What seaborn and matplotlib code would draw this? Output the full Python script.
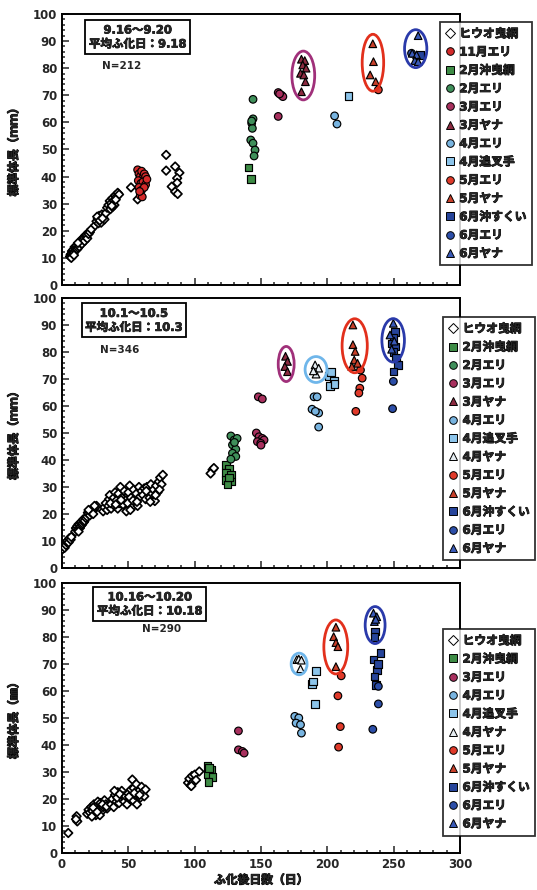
import matplotlib
matplotlib.use("Agg")
import matplotlib.pyplot as plt
import matplotlib.patheffects as pe
from matplotlib.patches import Ellipse
from matplotlib.lines import Line2D
from matplotlib.ticker import MultipleLocator
import pandas as pd
import seaborn as sns

sns.set_style("white")
plt.rcParams["font.family"] = ["DejaVu Sans", "Noto Sans CJK JP"]
plt.rcParams["font.weight"] = "bold"

# heavier strokes for the kana/kanji text
HEAVY = [pe.withStroke(linewidth=0.7, foreground="black")]

# ---- group names (legend labels) ----
HIUO = "ヒウオ曳網"
NOV_ERI = "11月エリ"
FEB_OKI = "2月沖曳網"
FEB_ERI = "2月エリ"
MAR_ERI = "3月エリ"
MAR_YANA = "3月ヤナ"
APR_ERI = "4月エリ"
APR_SADE = "4月追叉手"
APR_YANA = "4月ヤナ"
MAY_ERI = "5月エリ"
MAY_YANA = "5月ヤナ"
JUN_OKI = "6月沖すくい"
JUN_ERI = "6月エリ"
JUN_YANA = "6月ヤナ"

# ---- panel 1 : hatched 9.16-9.20 (days after hatching, standard length mm) ----
p1_hiuo = [(6, 10.5), (6.5, 11.2), (7, 11.5), (7.5, 12.5), (8, 11), (8, 12), (8.5, 13), (9, 12),
           (9.5, 14), (10, 12.8), (10, 13.6), (10.5, 13.5), (11, 14.5), (11.5, 13.2), (12, 13.8),
           (12.5, 15), (13, 14.2), (13.5, 15.8), (14, 15.5), (14.5, 16.5), (15, 15.2), (15.5, 17.2),
           (16, 16.8), (16.5, 17.5), (17, 16.2), (17.5, 18.2), (18, 17.8), (18.5, 18.5), (19, 17.2),
           (19.5, 19.2), (20, 18.8), (21, 19.5), (22, 20.5), (7, 10), (9, 11), (12, 15.5),
           (25, 22), (26, 23.5), (27, 24.5), (27.5, 22.8), (28, 25.5), (29, 24), (29.5, 23), (30, 26),
           (31, 25), (32, 24.2), (33, 26.5), (26.5, 25.2), (28.5, 23.8), (30.5, 24.6),
           (34, 28.5), (35, 29.5), (36, 31), (36.5, 28), (37, 30.2), (38, 32), (39, 31.2), (39.5, 29.5),
           (40, 33), (41, 32.5), (42, 34), (43, 33.4), (38, 28.8), (37.5, 29.2), (40.5, 31.5),
           (52, 36), (57, 31.6),
           (78.5, 48), (78.5, 42.2), (85.3, 43.7), (88.5, 41.4), (86.8, 39.4), (86.8, 37.7),
           (82.7, 36.3), (85.3, 34.4), (87.2, 33.6)]
p1_nov_eri = [(57, 42.5), (58, 41), (59, 40), (60, 42), (61, 39.5), (62, 41), (63, 40), (57.5, 38.5),
              (59.5, 37.5), (61, 38), (63, 37), (58, 36), (60, 35), (62, 36), (59, 33), (60.5, 32.5),
              (58.5, 34.5), (64, 39)]
p1_feb_oki = [(140.5, 43.3), (142.3, 39)]
p1_feb_eri = [(144, 68.5), (144, 61.3), (143, 59.7), (143.5, 57.8), (142.3, 53.5), (144, 52.3),
              (145.5, 49.8), (144.8, 47.6), (143, 60.5)]
p1_mar_eri = [(163, 71), (165.5, 70), (166.5, 69.5), (163, 62.2), (164, 70.5)]
p1_mar_yana = [(180.5, 83.3), (183, 82.8), (181.5, 81.2), (184, 80), (179.8, 78.1), (182.3, 77.5),
               (183.5, 75), (180.5, 71.3)]
p1_apr_eri = [(205.5, 62.4), (207.3, 59.4)]
p1_apr_sade = [(216, 69.7)]
p1_may_eri = [(238.5, 72)]
p1_may_yana = [(234.3, 89), (234.8, 82.4), (232.3, 77.5), (236.5, 75)]
p1_jun_oki = [(269.8, 84.9)]
p1_jun_eri = [(263.5, 85.5)]
p1_jun_yana = [(268.5, 92), (264, 85.5), (267.3, 84.9), (266, 82.8), (268.5, 82.4)]

# ---- panel 2 : hatched 10.1-10.5 ----
p2_hiuo = [(0.5, 7), (1, 8), (1.5, 8.8), (2, 7.5), (2.5, 9), (3, 8.5), (3.5, 9.6), (4, 10), (5, 9.5),
           (5.5, 11), (6.5, 10.5), (7, 11.5),
           (10, 13.5), (10.5, 14.8), (11, 14.5), (11.5, 15.5), (12, 14), (12.5, 16.2), (13, 16),
           (13.5, 14.8), (14, 15.5), (14.5, 17), (15, 16), (15.5, 16.5), (16, 18), (16.5, 17),
           (17, 17.5), (18, 18.5), (12.5, 13.5),
           (19, 19), (19.5, 20.5), (20, 20), (21, 19.5), (21.5, 21), (22, 20.5), (22.5, 21.8), (23, 22),
           (24, 21.5), (25, 22.5), (26, 23), (20, 21.5), (23.5, 20), (24.5, 23),
           (31, 21), (32, 22.5), (33, 24), (34, 21.5), (35, 23), (35.5, 25.5), (36, 27), (37, 22),
           (38, 24.5), (39, 26), (39.5, 23), (40, 28), (41, 25), (42, 22), (42.5, 27.5), (43, 24),
           (44, 30), (45, 26), (46, 23.5), (47, 28.5), (48, 25), (48.5, 21), (36.5, 24), (40.5, 23.5),
           (44.5, 25.2),
           (49.5, 24), (50, 28), (51, 30.5), (52, 26), (53, 22.5), (54, 29), (55, 25), (56, 27.5),
           (57, 23), (58, 30), (59, 26.5), (60, 28.5), (51.5, 21.5), (53.5, 25), (56.5, 24.5),
           (61, 27), (62, 29.5), (63, 25.5), (64, 30), (65, 28), (66, 26), (67, 31), (68, 27.5),
           (69, 29), (70, 24.8), (71, 30.5), (72, 28), (73, 32), (74, 33.5), (75, 31), (76, 34.5),
           (73.5, 29), (66.5, 24.5), (63.5, 28.5), (70.5, 27),
           (113.5, 36.4), (112, 35), (114.5, 37)]
p2_feb_oki = [(123.5, 38.1), (126, 36.9), (123.5, 35.2), (127.3, 34.6), (123.5, 32.7), (127.3, 32.1),
              (124.8, 30.9), (126, 33.5)]
p2_feb_eri = [(127.3, 48.9), (129.8, 47.4), (132, 48), (128.5, 45.6), (131, 44), (128.5, 42.5),
              (131, 41.3), (127.3, 40.3), (130, 46.5)]
p2_mar_eri = [(148, 63.4), (151, 62.6), (146.5, 50), (148.5, 48.6), (151, 48), (147.3, 46.8),
              (152.3, 47.4), (149.8, 46.2), (150, 45.5)]
p2_mar_yana = [(168.5, 78.4), (170, 76.5), (168, 74.6), (170, 72.7)]
p2_apr_eri = [(190, 63.4), (192.3, 63.4), (188.5, 58.8), (193.5, 57.4), (193.5, 52.2), (191, 58)]
p2_apr_sade = [(201, 71.2), (205, 69.4), (202, 67.5), (205.5, 68.2), (203, 72.6)]
p2_apr_yana = [(190.8, 75.2), (193.5, 74), (191.5, 71.8), (189.5, 73)]
p2_may_eri = [(225, 73.3), (226.3, 70.3), (224.5, 66.6), (223.8, 64.8), (221.5, 58)]
p2_may_yana = [(219.3, 90), (219.3, 82.7), (221, 80.2), (220.3, 77), (222.8, 75.8), (218.5, 74.6)]
p2_jun_oki = [(251, 87.5), (249.8, 85.1), (248.5, 83.2), (251.5, 82), (249.8, 80.1), (253.5, 75.2),
              (249.8, 72.7), (252, 78)]
p2_jun_eri = [(249.8, 69.1), (249.2, 59)]
p2_jun_yana = [(249.8, 90.6), (247.3, 86.3), (250.5, 84), (248.5, 81)]

# ---- panel 3 : hatched 10.16-10.20 ----
p3_hiuo = [(4.7, 7.4), (11, 13.6), (11.5, 11.7), (10.5, 12.5),
           (19, 14.5), (20, 16), (21, 15), (22, 17), (23, 15.5), (24, 18), (25, 16.5), (25.5, 14),
           (26, 17.5), (27, 19), (28, 16), (29, 18.5), (30, 15.5), (31, 17), (32, 19.5), (33, 18),
           (34, 16.5), (22.5, 13.5), (28.5, 14), (23.5, 16.8), (26.5, 15.2), (30.5, 18), (33.5, 17.2),
           (37, 18), (38, 20), (39, 17), (40, 21.5), (41, 19), (42, 22.5), (43, 18.5), (44, 20.5),
           (45, 23), (46, 21), (39.5, 23), (41.5, 20.5), (43.5, 21.8),
           (47, 19), (48, 21), (49, 18), (50, 22), (51, 20), (52, 23.5), (53, 27.2), (53.5, 19.5),
           (54, 24), (55, 21.5), (56, 25.5), (57, 22), (58, 23), (59, 20.5), (60, 24.5), (61, 22.5),
           (62, 21), (63, 23.5), (56.5, 18), (50.5, 20.8), (54.5, 22.2), (58.5, 21.5),
           (95, 26), (96, 27.5), (97, 25), (98, 28.5), (99, 26.5), (100, 29), (101, 27), (103.5, 30.2),
           (97.5, 24.8)]
p3_feb_oki = [(109.7, 32.1), (112.2, 30.9), (109.7, 29), (113.5, 28.2), (110.5, 26.2), (111, 31.5)]
p3_mar_eri = [(133, 45.2), (133, 38.2), (136, 37.6), (137.3, 37)]
p3_apr_eri = [(175.5, 50.6), (178.5, 50), (176.5, 48.1), (179.8, 47.5), (180.5, 44.4)]
p3_apr_sade = [(191.5, 67.5), (188.5, 62.6), (189, 63.5), (190.5, 55.2)]
p3_apr_yana = [(177, 71.6), (178.5, 71.8), (180.5, 71.4), (179.8, 68.2)]
p3_may_eri = [(210.5, 65.6), (208, 58.2), (209.8, 46.8), (208.5, 39.2)]
p3_may_yana = [(206.5, 83.6), (204.8, 80.1), (206.5, 77.9), (208, 76.4), (206.5, 69)]
p3_jun_oki = [(236, 82), (235.5, 80), (240, 74), (234.8, 71.6), (237.3, 67.8), (235.5, 65.3),
              (236.5, 62.2), (238, 70)]
p3_jun_eri = [(238.5, 61.7), (238.5, 55.2), (234.3, 45.8)]
p3_jun_yana = [(234.8, 88.8), (237.3, 87.5), (235.5, 85.7), (236.5, 86.5)]

# ---- panel annotations ----
p1_period = "9.16〜9.20\n平均ふ化日：9.18"
p2_period = "10.1〜10.5\n平均ふ化日：10.3"
p3_period = "10.16〜10.20\n平均ふ化日：10.18"
p1_n = "N=212"
p2_n = "N=346"
p3_n = "N=290"

# ---- marker styles per group ----
FACE = {
    HIUO: "#ffffff", NOV_ERI: "#d42a2a", FEB_OKI: "#3d8b45", FEB_ERI: "#3f8f5a",
    MAR_ERI: "#a8305e", MAR_YANA: "#8c2a40", APR_ERI: "#78b4e0", APR_SADE: "#8cc4ea",
    APR_YANA: "#e6edf2", MAY_ERI: "#e03a2a", MAY_YANA: "#c8402a", JUN_OKI: "#26449a",
    JUN_ERI: "#2c4ea8", JUN_YANA: "#3a5ab8",
}
MARK = {
    HIUO: "D", NOV_ERI: "o", FEB_OKI: "s", FEB_ERI: "o", MAR_ERI: "o", MAR_YANA: "^",
    APR_ERI: "o", APR_SADE: "s", APR_YANA: "^", MAY_ERI: "o", MAY_YANA: "^",
    JUN_OKI: "s", JUN_ERI: "o", JUN_YANA: "^",
}
SIZE = {g: (19 if m == "D" else 30) for g, m in MARK.items()}

panels = [
    dict(series={HIUO: p1_hiuo, NOV_ERI: p1_nov_eri, FEB_OKI: p1_feb_oki, FEB_ERI: p1_feb_eri,
                 MAR_ERI: p1_mar_eri, MAR_YANA: p1_mar_yana, APR_ERI: p1_apr_eri,
                 APR_SADE: p1_apr_sade, MAY_ERI: p1_may_eri, MAY_YANA: p1_may_yana,
                 JUN_OKI: p1_jun_oki, JUN_ERI: p1_jun_eri, JUN_YANA: p1_jun_yana},
         period=p1_period, n=p1_n, ylabel="標準体長（ｍｍ）",
         rect=[0.1155, 0.6798, 0.741, 0.3045],
         box_xy=(0.19, 0.915), n_xy=(0.1, 0.808), legend_xy=(0.819, 0.9753),
         rings=[([MAR_YANA], 0, "#a0307a", 13, 6),
                ([MAY_YANA], 0, "#e2301c", 12, 7),
                ([JUN_YANA, JUN_ERI, JUN_OKI], 0, "#2a3aaa", 10.5, 4.4)]),
    dict(series={HIUO: p2_hiuo, FEB_OKI: p2_feb_oki, FEB_ERI: p2_feb_eri, MAR_ERI: p2_mar_eri,
                 MAR_YANA: p2_mar_yana, APR_ERI: p2_apr_eri, APR_SADE: p2_apr_sade,
                 APR_YANA: p2_apr_yana, MAY_ERI: p2_may_eri, MAY_YANA: p2_may_yana,
                 JUN_OKI: p2_jun_oki, JUN_ERI: p2_jun_eri, JUN_YANA: p2_jun_yana},
         period=p2_period, n=p2_n, ylabel="標準体長（ｍｍ）",
         rect=[0.1155, 0.3618, 0.741, 0.3034],
         box_xy=(0.18, 0.917), n_xy=(0.095, 0.807), legend_xy=(0.825, 0.6438),
         rings=[([MAR_YANA], 0, "#a0307a", 10, 7.3),
                ([APR_YANA], 0, "#6fb6ea", 12.5, 6.2),
                ([MAY_YANA], 0, "#e2301c", 14.7, 4.6),
                ([JUN_YANA, JUN_OKI], 78, "#2a3aaa", 12.3, 3.5)]),
    dict(series={HIUO: p3_hiuo, FEB_OKI: p3_feb_oki, MAR_ERI: p3_mar_eri, APR_ERI: p3_apr_eri,
                 APR_SADE: p3_apr_sade, APR_YANA: p3_apr_yana, MAY_ERI: p3_may_eri,
                 MAY_YANA: p3_may_yana, JUN_OKI: p3_jun_oki, JUN_ERI: p3_jun_eri,
                 JUN_YANA: p3_jun_yana},
         period=p3_period, n=p3_n, ylabel="標準体長（㎜）",
         rect=[0.1155, 0.0416, 0.741, 0.3034],
         box_xy=(0.22, 0.922), n_xy=(0.2, 0.83), legend_xy=(0.825, 0.2933),
         rings=[([APR_YANA], 0, "#6fb6ea", 8.5, 4.4),
                ([MAY_YANA], 0, "#e2301c", 14.8, 5.4),
                ([JUN_YANA, JUN_OKI], 78, "#2a3aaa", 12.5, 4.9)]),
]

fig = plt.figure(figsize=(5.37, 8.90), dpi=100)

for i, p in enumerate(panels):
    ax = fig.add_axes(p["rect"])
    order = list(p["series"].keys())
    rows = [(g, d, l) for g in order for d, l in p["series"][g]]
    df = pd.DataFrame(rows, columns=["group", "day", "length"])
    style = dict(x="day", y="length", hue="group", style="group", size="group",
                 hue_order=order, style_order=order, size_order=order,
                 palette={g: FACE[g] for g in order},
                 markers={g: MARK[g] for g in order},
                 sizes={g: SIZE[g] for g in order},
                 edgecolor="black", legend=False, ax=ax, zorder=3)

    # open diamonds (heavily overlapping) first, then the filled catches on top
    sns.scatterplot(data=df[df["group"] == HIUO], linewidth=1.25, **style)
    sns.scatterplot(data=df[df["group"] != HIUO], linewidth=0.85, **style)

    # rings drawn around the ヤナ catches
    for groups, lo, color, padx, pady in p["rings"]:
        pts = df[df["group"].isin(groups) & (df["length"] >= lo)]
        x0, x1 = pts["day"].min(), pts["day"].max()
        y0, y1 = pts["length"].min(), pts["length"].max()
        ax.add_patch(Ellipse(((x0 + x1) / 2, (y0 + y1) / 2), (x1 - x0) + padx, (y1 - y0) + pady,
                             fill=False, ec=color, lw=2.0, zorder=4))

    ax.set_xlim(0, 300)
    ax.set_ylim(0, 100)
    ax.xaxis.set_major_locator(MultipleLocator(50))
    ax.xaxis.set_minor_locator(MultipleLocator(10))
    ax.yaxis.set_major_locator(MultipleLocator(10))
    ax.yaxis.set_minor_locator(MultipleLocator(2))
    ax.tick_params(which="both", direction="in", left=True, bottom=True, top=False, right=False,
                   width=1.1, labelsize=8.5)
    ax.tick_params(which="major", length=5)
    ax.tick_params(which="minor", length=2.5)
    for lab in ax.get_xticklabels() + ax.get_yticklabels():
        lab.set_fontweight("bold")
    for sp in ax.spines.values():
        sp.set_linewidth(1.4)
        sp.set_color("black")

    yl = ax.set_ylabel(p["ylabel"], fontsize=8.5, fontweight="bold", labelpad=9)
    yl.set_path_effects(HEAVY)
    if i < 2:
        ax.set_xlabel("")
        ax.tick_params(labelbottom=False)
    else:
        xl = ax.set_xlabel("ふ化後日数（日）", fontsize=8.5, fontweight="bold", labelpad=2)
        xl.set_path_effects(HEAVY)

    ax.text(*p["box_xy"], p["period"], transform=ax.transAxes, ha="center", va="center",
            fontsize=8.3, fontweight="bold", linespacing=1.1,
            bbox=dict(boxstyle="square,pad=0.3", fc="white", ec="black", lw=1.3),
            path_effects=[pe.withStroke(linewidth=0.5, foreground="black")])
    ax.text(*p["n_xy"], p["n"], transform=ax.transAxes, ha="left", va="center",
            fontsize=7.5, fontweight="bold")

    handles = [Line2D([], [], ls="", marker=MARK[g], markerfacecolor=FACE[g],
                      markeredgecolor="black", markeredgewidth=0.7,
                      markersize=(4.6 if MARK[g] == "D" else 5.5)) for g in order]
    leg = ax.legend(handles, order, loc="upper left", bbox_to_anchor=p["legend_xy"],
                    bbox_transform=fig.transFigure, frameon=True, fancybox=False,
                    fontsize=8.5, labelspacing=0.45, handlelength=0.8, handletextpad=0.4,
                    borderpad=0.45, borderaxespad=0)
    leg.get_frame().set_edgecolor("black")
    leg.get_frame().set_linewidth(1.3)
    for t in leg.get_texts():
        t.set_fontweight("bold")
        t.set_path_effects([pe.withStroke(linewidth=0.6, foreground="black")])

fig.savefig("out.png", dpi=100, facecolor="white")
